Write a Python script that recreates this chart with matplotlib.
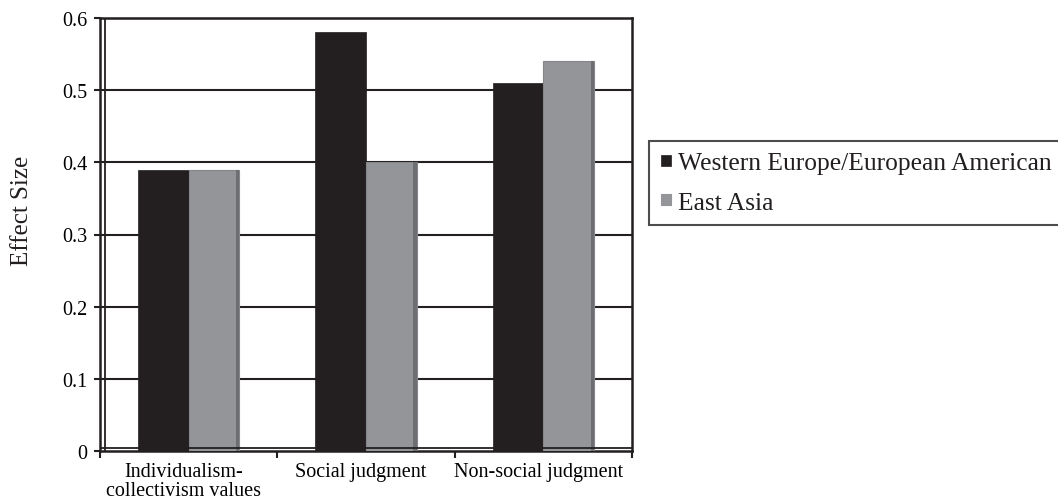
import matplotlib
matplotlib.use("Agg")
import matplotlib.pyplot as plt
import matplotlib.transforms as mtransforms
import numpy as np

categories = ["Individualism-\ncollectivism values", "Social judgment", "Non-social judgment"]
series_names = ["Western Europe/European American", "East Asia"]
western = [0.39, 0.58, 0.51]
east_asia = [0.39, 0.40, 0.54]
yticks = [0, 0.1, 0.2, 0.3, 0.4, 0.5, 0.6]
ytick_labels = ["0", "0.1", "0.2", "0.3", "0.4", "0.5", "0.6"]

plt.rcParams['font.family'] = ['Liberation Serif', 'DejaVu Serif']

fig = plt.figure(figsize=(10.58, 5.02), dpi=100)
ax = fig.add_axes([100/1058, 1-452/502, 532/1058, (452-19)/502])

x = np.arange(len(categories))
w = 0.285
black = "#231f20"
gray = "#939598"
side = "#6d6e71"
b1 = ax.bar(x - w/2, western, w, color=black, edgecolor=black, linewidth=0.5, zorder=3,
            label=series_names[0])
b2 = ax.bar(x + w/2, east_asia, w, color=gray, edgecolor="#85868a", linewidth=0.8, zorder=3,
            label=series_names[1])
# darker right side of the grey bars (pseudo 3D shading)
ax.bar(x + w - 0.009, east_asia, 0.018, color=side, linewidth=0, zorder=4)

ax.set_xlim(-0.5, 2.5)
ax.set_ylim(0, 0.6)
ax.set_yticks(yticks)
ax.set_yticklabels(ytick_labels, fontsize=14.5)
ax.set_xticks([-0.5, 0.5, 1.5, 2.5], minor=False)
ax.set_xticklabels([])
ax.set_xticks(x, minor=True)
ax.set_xticklabels(categories, minor=True, fontsize=14.5, linespacing=0.98)
ax.tick_params(axis='x', which='minor', length=0, pad=8)
ax.tick_params(axis='x', which='major', length=5, width=1.5, color=black, direction='out')
ax.tick_params(axis='y', length=4, width=1.5, color=black, direction='out', pad=5)
shift = mtransforms.ScaledTranslation(-5/100, 0, fig.dpi_scale_trans)
for lab in ax.get_xticklabels(minor=True):
    lab.set_transform(lab.get_transform() + shift)

for y in yticks[1:]:
    ax.axhline(y, color=black, linewidth=1.5, zorder=1)
for s in ax.spines.values():
    s.set_color(black)
    s.set_linewidth(1.8)
# inner wall line (pseudo 3D)
ax.axvline(-0.5 + 0.03, color=black, linewidth=1.3, zorder=2)
ax.axhline(0.004, color=black, linewidth=1.3, zorder=5)

fig.text(22/1058, 1-211/502, "Effect Size", rotation=90, fontsize=18,
         ha='center', va='center', color=black)

leg = fig.legend(handles=[b1, b2], labels=series_names, loc='upper left',
                 bbox_to_anchor=(649/1058, 1-142/502), fontsize=18.4,
                 frameon=True, fancybox=False, handlelength=0.43, handleheight=0.3,
                 handletextpad=0.27, borderpad=0.45, labelspacing=0.68, borderaxespad=0)
leg.get_frame().set_edgecolor(black)
leg.get_frame().set_linewidth(1.5)
for t in leg.get_texts():
    t.set_color(black)
for h in leg.legend_handles:
    h.set_edgecolor(h.get_facecolor())

fig.savefig("out.png", dpi=100)
